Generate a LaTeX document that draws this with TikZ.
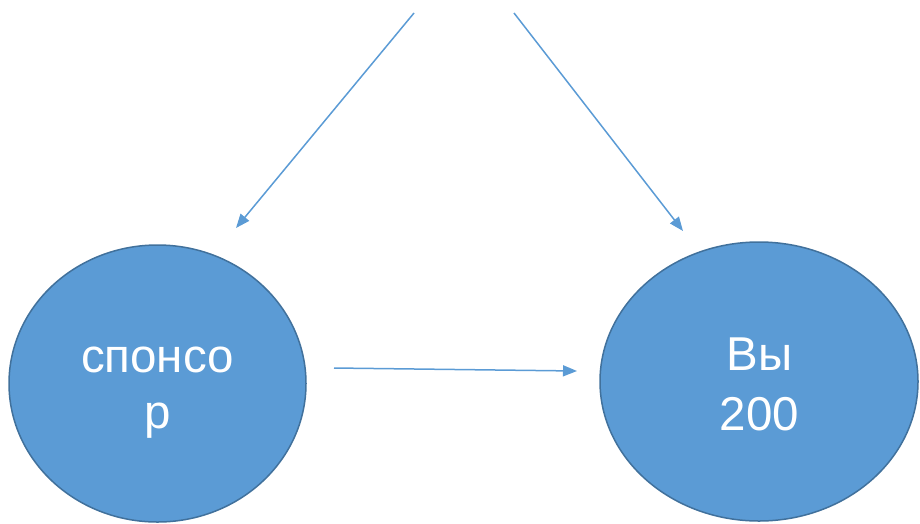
\documentclass[tikz,border=0pt]{standalone}
\usepackage{fontspec}
\setmainfont{Liberation Sans}
\usetikzlibrary{shapes.geometric,arrows.meta}
\definecolor{fillblue}{HTML}{5B9BD5}
\definecolor{edgeblue}{HTML}{41719C}
\begin{document}
\begin{tikzpicture}[x=1pt,y=-1pt,
  circ/.style={ellipse, draw=edgeblue, line width=1.5pt, fill=fillblue, inner sep=0pt},
  txt/.style={text=white, font=\fontsize{47.5}{56}\selectfont, inner sep=0pt, anchor=base},
  conn/.style={draw=fillblue, line width=1.5pt, -{Triangle[length=14pt,width=11pt]}}]
\useasboundingbox (0,0) rectangle (920,523);
\node[circ, minimum width=297pt, minimum height=277pt] (sp) at (157.5,383.5) {};
\node[circ, minimum width=318pt, minimum height=279pt] (vy) at (759,381.5) {};
\node[txt] (sp1) at (157.5,372) {спонсо};
\node[txt] (sp2) at (157.5,428) {р};
\node[txt] (vy1) at (759.5,370) {Вы};
\node[txt] (vy2) at (759.5,430) {200};
\coordinate (a1) at (414,13);
\coordinate (a2) at (236,228);
\coordinate (b1) at (514,13);
\coordinate (b2) at (683,231);
\coordinate (c1) at (334,368);
\coordinate (c2) at (577,371);
\draw[conn] (a1) -- (a2);
\draw[conn] (b1) -- (b2);
\draw[conn] (c1) -- (c2);
\end{tikzpicture}
\end{document}
